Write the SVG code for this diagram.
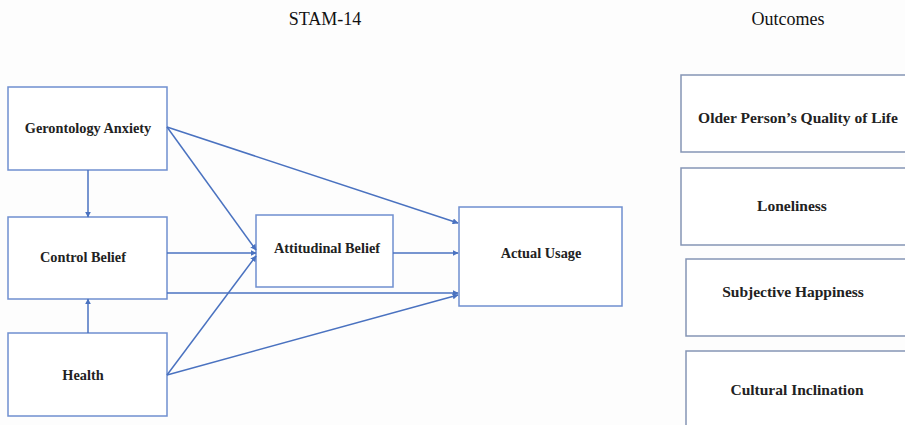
<svg xmlns="http://www.w3.org/2000/svg" width="905" height="425" viewBox="0 0 905 425">
  <defs>
    <marker id="arrow" viewBox="0 0 10 10" refX="9" refY="5" markerWidth="6" markerHeight="6" markerUnits="userSpaceOnUse" orient="auto">
      <path d="M0,0 L10,5 L0,10 z" fill="#4a72c0"/>
    </marker>
    <style>
      .box { fill: #ffffff; stroke: #6f8fcf; stroke-width: 1.5; }
      .obox { fill: #ffffff; stroke: #8595b5; stroke-width: 1.5; }
      .lbl { font-family: "Liberation Serif", "Times New Roman", serif; font-size: 14.3px; font-weight: bold; fill: #222; text-anchor: middle; }
      .olbl { font-family: "Liberation Serif", "Times New Roman", serif; font-size: 15.5px; font-weight: bold; fill: #222; text-anchor: middle; }
      .title { font-family: "Liberation Serif", "Times New Roman", serif; font-size: 18px; fill: #111; text-anchor: middle; }
      .edge { stroke: #4a72c0; stroke-width: 1.5; fill: none; marker-end: url(#arrow); }
    </style>
  </defs>
  <rect width="905" height="425" fill="#fdfdfd"/>

  <text class="title" x="325" y="25">STAM-14</text>
  <text class="title" x="788" y="25">Outcomes</text>

  <g id="gerontology-anxiety">
    <rect class="box" x="8" y="87" width="159" height="83"/>
    <text class="lbl" x="88" y="133">Gerontology Anxiety</text>
  </g>
  <g id="control-belief">
    <rect class="box" x="8" y="217" width="159" height="82"/>
    <text class="lbl" x="83" y="262">Control Belief</text>
  </g>
  <g id="health">
    <rect class="box" x="8" y="333" width="159" height="83"/>
    <text class="lbl" x="83" y="380">Health</text>
  </g>
  <g id="attitudinal-belief">
    <rect class="box" x="256" y="215" width="137" height="72"/>
    <text class="lbl" x="327" y="253">Attitudinal Belief</text>
  </g>
  <g id="actual-usage">
    <rect class="box" x="459" y="207" width="163" height="99"/>
    <text class="lbl" x="541" y="258">Actual Usage</text>
  </g>

  <g id="quality-of-life">
    <rect class="obox" x="681" y="75" width="240" height="77"/>
    <text class="olbl" x="798" y="123">Older Person’s Quality of Life</text>
  </g>
  <g id="loneliness">
    <rect class="obox" x="681" y="168" width="240" height="77"/>
    <text class="olbl" x="792" y="211">Loneliness</text>
  </g>
  <g id="subjective-happiness">
    <rect class="obox" x="686" y="259" width="240" height="77"/>
    <text class="olbl" x="793" y="297">Subjective Happiness</text>
  </g>
  <g id="cultural-inclination">
    <rect class="obox" x="686" y="351" width="240" height="90"/>
    <text class="olbl" x="797" y="395">Cultural Inclination</text>
  </g>

  <g id="connectors">
    <line class="edge" x1="88" y1="170" x2="88" y2="217"/>
    <line class="edge" x1="88" y1="333" x2="88" y2="299"/>
    <line class="edge" x1="167" y1="127" x2="256" y2="250"/>
    <line class="edge" x1="167" y1="127" x2="458" y2="223"/>
    <line class="edge" x1="167" y1="253" x2="256" y2="253"/>
    <line class="edge" x1="167" y1="293" x2="458" y2="293"/>
    <line class="edge" x1="167" y1="375" x2="256" y2="256"/>
    <line class="edge" x1="167" y1="375" x2="458" y2="295"/>
    <line class="edge" x1="393" y1="253" x2="458" y2="253"/>
  </g>
</svg>
